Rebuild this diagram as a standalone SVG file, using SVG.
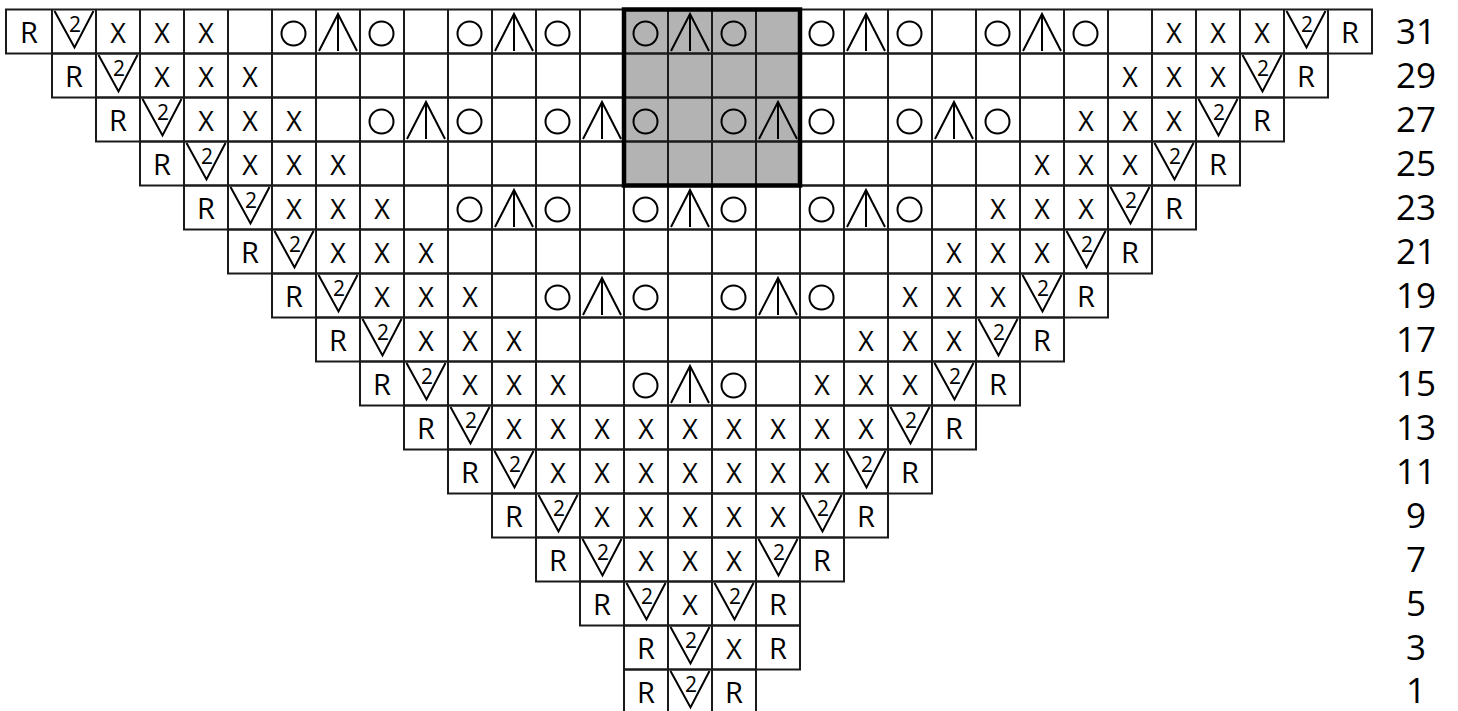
<svg xmlns="http://www.w3.org/2000/svg" width="1458" height="711" viewBox="0 0 1458 711">
<style>
.g{fill:none;stroke:#1a1a1a;stroke-width:2}
.sym{fill:none;stroke:#000;stroke-width:2}
text{font-family:"Open Sans","Liberation Sans",sans-serif;fill:#000}
.r{font-size:29px;text-anchor:middle}
.x{font-size:27px;text-anchor:middle}
.s{font-size:21px;text-anchor:middle}
.n{font-size:35px;text-anchor:middle}
</style>
<defs>
<ellipse id="o" class="sym" cx="-0.5" cy="24" rx="12" ry="12"/>
<path id="a" class="sym" d="M-19 41.5L0 4.5L19 41.5M0 4.5V41.5"/>
<path id="v" class="sym" d="M-19.5 1.5L0.5 38L19.5 1.5"/>
</defs>
<rect width="1458" height="711" fill="#fff"/>
<g id="highlight-fill"><rect x="624" y="9.5" width="176" height="176" fill="#b3b3b3"/></g>

<g id="row-31" transform="translate(0,9.5)">
<rect class="g" x="6" y="0" width="1366" height="44"/>
<path class="g" d="M52 0V44M96 0V44M140 0V44M184 0V44M228 0V44M272 0V44M316 0V44M360 0V44M404 0V44M448 0V44M492 0V44M536 0V44M580 0V44M624 0V44M668 0V44M712 0V44M756 0V44M800 0V44M844 0V44M888 0V44M932 0V44M976 0V44M1020 0V44M1064 0V44M1108 0V44M1152 0V44M1196 0V44M1240 0V44M1284 0V44M1328 0V44"/>
<text class="r" x="29" y="33">R</text>
<use href="#v" x="74"/><text class="s" x="75" y="22">2</text>
<text class="x" x="118" y="33">X</text><text class="x" x="162" y="33">X</text><text class="x" x="206" y="33">X</text>
<use href="#o" x="294"/><use href="#a" x="338"/><use href="#o" x="382"/>
<use href="#o" x="470"/><use href="#a" x="514"/><use href="#o" x="558"/>
<use href="#o" x="646"/><use href="#a" x="690"/><use href="#o" x="734"/>
<use href="#o" x="822"/><use href="#a" x="866"/><use href="#o" x="910"/>
<use href="#o" x="998"/><use href="#a" x="1042"/><use href="#o" x="1086"/>
<text class="x" x="1174" y="33">X</text><text class="x" x="1218" y="33">X</text><text class="x" x="1262" y="33">X</text>
<use href="#v" x="1306"/><text class="s" x="1307" y="22">2</text>
<text class="r" x="1350" y="33">R</text>
<text class="n" x="1416" y="34">31</text>
</g>

<g id="row-29" transform="translate(0,53.5)">
<rect class="g" x="52" y="0" width="1276" height="44"/>
<path class="g" d="M96 0V44M140 0V44M184 0V44M228 0V44M272 0V44M316 0V44M360 0V44M404 0V44M448 0V44M492 0V44M536 0V44M580 0V44M624 0V44M668 0V44M712 0V44M756 0V44M800 0V44M844 0V44M888 0V44M932 0V44M976 0V44M1020 0V44M1064 0V44M1108 0V44M1152 0V44M1196 0V44M1240 0V44M1284 0V44"/>
<text class="r" x="74" y="33">R</text>
<use href="#v" x="118"/><text class="s" x="119" y="22">2</text>
<text class="x" x="162" y="33">X</text><text class="x" x="206" y="33">X</text><text class="x" x="250" y="33">X</text>
<text class="x" x="1130" y="33">X</text><text class="x" x="1174" y="33">X</text><text class="x" x="1218" y="33">X</text>
<use href="#v" x="1262"/><text class="s" x="1263" y="22">2</text>
<text class="r" x="1306" y="33">R</text>
<text class="n" x="1416" y="34">29</text>
</g>

<g id="row-27" transform="translate(0,97.5)">
<rect class="g" x="96" y="0" width="1188" height="44"/>
<path class="g" d="M140 0V44M184 0V44M228 0V44M272 0V44M316 0V44M360 0V44M404 0V44M448 0V44M492 0V44M536 0V44M580 0V44M624 0V44M668 0V44M712 0V44M756 0V44M800 0V44M844 0V44M888 0V44M932 0V44M976 0V44M1020 0V44M1064 0V44M1108 0V44M1152 0V44M1196 0V44M1240 0V44"/>
<text class="r" x="118" y="33">R</text>
<use href="#v" x="162"/><text class="s" x="163" y="22">2</text>
<text class="x" x="206" y="33">X</text><text class="x" x="250" y="33">X</text><text class="x" x="294" y="33">X</text>
<use href="#o" x="382"/><use href="#a" x="426"/><use href="#o" x="470"/>
<use href="#o" x="558"/><use href="#a" x="602"/><use href="#o" x="646"/>
<use href="#o" x="734"/><use href="#a" x="778"/><use href="#o" x="822"/>
<use href="#o" x="910"/><use href="#a" x="954"/><use href="#o" x="998"/>
<text class="x" x="1086" y="33">X</text><text class="x" x="1130" y="33">X</text><text class="x" x="1174" y="33">X</text>
<use href="#v" x="1218"/><text class="s" x="1219" y="22">2</text>
<text class="r" x="1262" y="33">R</text>
<text class="n" x="1416" y="34">27</text>
</g>

<g id="row-25" transform="translate(0,141.5)">
<rect class="g" x="140" y="0" width="1100" height="44"/>
<path class="g" d="M184 0V44M228 0V44M272 0V44M316 0V44M360 0V44M404 0V44M448 0V44M492 0V44M536 0V44M580 0V44M624 0V44M668 0V44M712 0V44M756 0V44M800 0V44M844 0V44M888 0V44M932 0V44M976 0V44M1020 0V44M1064 0V44M1108 0V44M1152 0V44M1196 0V44"/>
<text class="r" x="162" y="33">R</text>
<use href="#v" x="206"/><text class="s" x="207" y="22">2</text>
<text class="x" x="250" y="33">X</text><text class="x" x="294" y="33">X</text><text class="x" x="338" y="33">X</text>
<text class="x" x="1042" y="33">X</text><text class="x" x="1086" y="33">X</text><text class="x" x="1130" y="33">X</text>
<use href="#v" x="1174"/><text class="s" x="1175" y="22">2</text>
<text class="r" x="1218" y="33">R</text>
<text class="n" x="1416" y="34">25</text>
</g>

<g id="row-23" transform="translate(0,185.5)">
<rect class="g" x="184" y="0" width="1012" height="44"/>
<path class="g" d="M228 0V44M272 0V44M316 0V44M360 0V44M404 0V44M448 0V44M492 0V44M536 0V44M580 0V44M624 0V44M668 0V44M712 0V44M756 0V44M800 0V44M844 0V44M888 0V44M932 0V44M976 0V44M1020 0V44M1064 0V44M1108 0V44M1152 0V44"/>
<text class="r" x="206" y="33">R</text>
<use href="#v" x="250"/><text class="s" x="251" y="22">2</text>
<text class="x" x="294" y="33">X</text><text class="x" x="338" y="33">X</text><text class="x" x="382" y="33">X</text>
<use href="#o" x="470"/><use href="#a" x="514"/><use href="#o" x="558"/>
<use href="#o" x="646"/><use href="#a" x="690"/><use href="#o" x="734"/>
<use href="#o" x="822"/><use href="#a" x="866"/><use href="#o" x="910"/>
<text class="x" x="998" y="33">X</text><text class="x" x="1042" y="33">X</text><text class="x" x="1086" y="33">X</text>
<use href="#v" x="1130"/><text class="s" x="1131" y="22">2</text>
<text class="r" x="1174" y="33">R</text>
<text class="n" x="1416" y="34">23</text>
</g>

<g id="row-21" transform="translate(0,229.5)">
<rect class="g" x="228" y="0" width="924" height="44"/>
<path class="g" d="M272 0V44M316 0V44M360 0V44M404 0V44M448 0V44M492 0V44M536 0V44M580 0V44M624 0V44M668 0V44M712 0V44M756 0V44M800 0V44M844 0V44M888 0V44M932 0V44M976 0V44M1020 0V44M1064 0V44M1108 0V44"/>
<text class="r" x="250" y="33">R</text>
<use href="#v" x="294"/><text class="s" x="295" y="22">2</text>
<text class="x" x="338" y="33">X</text><text class="x" x="382" y="33">X</text><text class="x" x="426" y="33">X</text>
<text class="x" x="954" y="33">X</text><text class="x" x="998" y="33">X</text><text class="x" x="1042" y="33">X</text>
<use href="#v" x="1086"/><text class="s" x="1087" y="22">2</text>
<text class="r" x="1130" y="33">R</text>
<text class="n" x="1416" y="34">21</text>
</g>

<g id="row-19" transform="translate(0,273.5)">
<rect class="g" x="272" y="0" width="836" height="44"/>
<path class="g" d="M316 0V44M360 0V44M404 0V44M448 0V44M492 0V44M536 0V44M580 0V44M624 0V44M668 0V44M712 0V44M756 0V44M800 0V44M844 0V44M888 0V44M932 0V44M976 0V44M1020 0V44M1064 0V44"/>
<text class="r" x="294" y="33">R</text>
<use href="#v" x="338"/><text class="s" x="339" y="22">2</text>
<text class="x" x="382" y="33">X</text><text class="x" x="426" y="33">X</text><text class="x" x="470" y="33">X</text>
<use href="#o" x="558"/><use href="#a" x="602"/><use href="#o" x="646"/>
<use href="#o" x="734"/><use href="#a" x="778"/><use href="#o" x="822"/>
<text class="x" x="910" y="33">X</text><text class="x" x="954" y="33">X</text><text class="x" x="998" y="33">X</text>
<use href="#v" x="1042"/><text class="s" x="1043" y="22">2</text>
<text class="r" x="1086" y="33">R</text>
<text class="n" x="1416" y="34">19</text>
</g>

<g id="row-17" transform="translate(0,317.5)">
<rect class="g" x="316" y="0" width="748" height="44"/>
<path class="g" d="M360 0V44M404 0V44M448 0V44M492 0V44M536 0V44M580 0V44M624 0V44M668 0V44M712 0V44M756 0V44M800 0V44M844 0V44M888 0V44M932 0V44M976 0V44M1020 0V44"/>
<text class="r" x="338" y="33">R</text>
<use href="#v" x="382"/><text class="s" x="383" y="22">2</text>
<text class="x" x="426" y="33">X</text><text class="x" x="470" y="33">X</text><text class="x" x="514" y="33">X</text>
<text class="x" x="866" y="33">X</text><text class="x" x="910" y="33">X</text><text class="x" x="954" y="33">X</text>
<use href="#v" x="998"/><text class="s" x="999" y="22">2</text>
<text class="r" x="1042" y="33">R</text>
<text class="n" x="1416" y="34">17</text>
</g>

<g id="row-15" transform="translate(0,361.5)">
<rect class="g" x="360" y="0" width="660" height="44"/>
<path class="g" d="M404 0V44M448 0V44M492 0V44M536 0V44M580 0V44M624 0V44M668 0V44M712 0V44M756 0V44M800 0V44M844 0V44M888 0V44M932 0V44M976 0V44"/>
<text class="r" x="382" y="33">R</text>
<use href="#v" x="426"/><text class="s" x="427" y="22">2</text>
<text class="x" x="470" y="33">X</text><text class="x" x="514" y="33">X</text><text class="x" x="558" y="33">X</text>
<use href="#o" x="646"/><use href="#a" x="690"/><use href="#o" x="734"/>
<text class="x" x="822" y="33">X</text><text class="x" x="866" y="33">X</text><text class="x" x="910" y="33">X</text>
<use href="#v" x="954"/><text class="s" x="955" y="22">2</text>
<text class="r" x="998" y="33">R</text>
<text class="n" x="1416" y="34">15</text>
</g>

<g id="row-13" transform="translate(0,405.5)">
<rect class="g" x="404" y="0" width="572" height="44"/>
<path class="g" d="M448 0V44M492 0V44M536 0V44M580 0V44M624 0V44M668 0V44M712 0V44M756 0V44M800 0V44M844 0V44M888 0V44M932 0V44"/>
<text class="r" x="426" y="33">R</text>
<use href="#v" x="470"/><text class="s" x="471" y="22">2</text>
<text class="x" x="514" y="33">X</text><text class="x" x="558" y="33">X</text><text class="x" x="602" y="33">X</text><text class="x" x="646" y="33">X</text><text class="x" x="690" y="33">X</text><text class="x" x="734" y="33">X</text><text class="x" x="778" y="33">X</text><text class="x" x="822" y="33">X</text><text class="x" x="866" y="33">X</text>
<use href="#v" x="910"/><text class="s" x="911" y="22">2</text>
<text class="r" x="954" y="33">R</text>
<text class="n" x="1416" y="34">13</text>
</g>

<g id="row-11" transform="translate(0,449.5)">
<rect class="g" x="448" y="0" width="484" height="44"/>
<path class="g" d="M492 0V44M536 0V44M580 0V44M624 0V44M668 0V44M712 0V44M756 0V44M800 0V44M844 0V44M888 0V44"/>
<text class="r" x="470" y="33">R</text>
<use href="#v" x="514"/><text class="s" x="515" y="22">2</text>
<text class="x" x="558" y="33">X</text><text class="x" x="602" y="33">X</text><text class="x" x="646" y="33">X</text><text class="x" x="690" y="33">X</text><text class="x" x="734" y="33">X</text><text class="x" x="778" y="33">X</text><text class="x" x="822" y="33">X</text>
<use href="#v" x="866"/><text class="s" x="867" y="22">2</text>
<text class="r" x="910" y="33">R</text>
<text class="n" x="1416" y="34">11</text>
</g>

<g id="row-9" transform="translate(0,493.5)">
<rect class="g" x="492" y="0" width="396" height="44"/>
<path class="g" d="M536 0V44M580 0V44M624 0V44M668 0V44M712 0V44M756 0V44M800 0V44M844 0V44"/>
<text class="r" x="514" y="33">R</text>
<use href="#v" x="558"/><text class="s" x="559" y="22">2</text>
<text class="x" x="602" y="33">X</text><text class="x" x="646" y="33">X</text><text class="x" x="690" y="33">X</text><text class="x" x="734" y="33">X</text><text class="x" x="778" y="33">X</text>
<use href="#v" x="822"/><text class="s" x="823" y="22">2</text>
<text class="r" x="866" y="33">R</text>
<text class="n" x="1416" y="34">9</text>
</g>

<g id="row-7" transform="translate(0,537.5)">
<rect class="g" x="536" y="0" width="308" height="44"/>
<path class="g" d="M580 0V44M624 0V44M668 0V44M712 0V44M756 0V44M800 0V44"/>
<text class="r" x="558" y="33">R</text>
<use href="#v" x="602"/><text class="s" x="603" y="22">2</text>
<text class="x" x="646" y="33">X</text><text class="x" x="690" y="33">X</text><text class="x" x="734" y="33">X</text>
<use href="#v" x="778"/><text class="s" x="779" y="22">2</text>
<text class="r" x="822" y="33">R</text>
<text class="n" x="1416" y="34">7</text>
</g>

<g id="row-5" transform="translate(0,581.5)">
<rect class="g" x="580" y="0" width="220" height="44"/>
<path class="g" d="M624 0V44M668 0V44M712 0V44M756 0V44"/>
<text class="r" x="602" y="33">R</text>
<use href="#v" x="646"/><text class="s" x="647" y="22">2</text>
<text class="x" x="690" y="33">X</text>
<use href="#v" x="734"/><text class="s" x="735" y="22">2</text>
<text class="r" x="778" y="33">R</text>
<text class="n" x="1416" y="34">5</text>
</g>

<g id="row-3" transform="translate(0,625.5)">
<rect class="g" x="624" y="0" width="176" height="44"/>
<path class="g" d="M668 0V44M712 0V44M756 0V44"/>
<text class="r" x="646" y="33">R</text>
<use href="#v" x="690"/><text class="s" x="691" y="22">2</text>
<text class="x" x="734" y="33">X</text>
<text class="r" x="778" y="33">R</text>
<text class="n" x="1416" y="34">3</text>
</g>

<g id="row-1" transform="translate(0,669.5)">
<rect class="g" x="624" y="0" width="132" height="44"/>
<path class="g" d="M668 0V44M712 0V44"/>
<text class="r" x="646" y="33">R</text>
<use href="#v" x="690"/><text class="s" x="691" y="22">2</text>
<text class="r" x="734" y="33">R</text>
<text class="n" x="1416" y="33">1</text>
</g>

<g id="highlight-border"><rect x="624" y="9.5" width="176" height="176" fill="none" stroke="#000" stroke-width="4.5"/></g>
</svg>
